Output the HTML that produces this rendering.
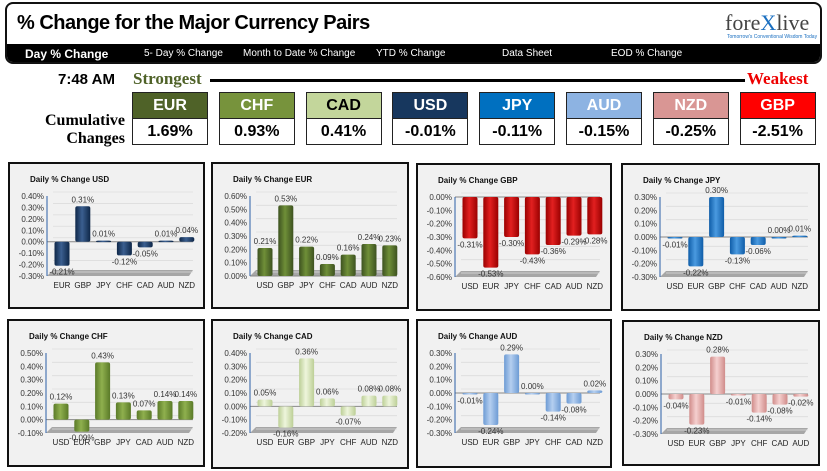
<!DOCTYPE html>
<html><head><meta charset="utf-8">
<style>
body{margin:0;width:827px;height:471px;background:#fff;overflow:hidden;position:relative;font-family:"Liberation Sans",sans-serif}
.abs{position:absolute}
#hdr{left:5px;top:2px;width:813px;height:58px;border:2px solid #111;border-radius:8px;overflow:hidden;background:#fff}
#nav{position:absolute;left:0;right:0;top:40px;height:20px;background:#000;color:#fff;font-size:10px}
#nav span{position:absolute;top:4px;font-family:"Liberation Sans Narrow","Liberation Sans",sans-serif}
.cb{position:absolute;width:74px;border:1px solid #222;text-align:center;font-family:"Liberation Sans Narrow","Liberation Sans",sans-serif;font-weight:bold}
.ch{height:25px;line-height:25px;font-size:16px;color:#fff}
.cv{height:25px;line-height:25px;font-size:16px;color:#000;background:#fff;border-top:1px solid #222}
</style></head><body>
<div id="hdr" class="abs">
  <div class="abs" style="left:10px;top:8px;font-family:'Liberation Sans Narrow','Liberation Sans',sans-serif;font-weight:bold;font-size:20px;letter-spacing:-0.5px">% Change for the Major Currency Pairs</div>
  <div class="abs" style="left:718px;top:6px;font-family:'Liberation Serif',serif;font-size:22px;color:#444">fore<span style="color:#1a6fc0">X</span>live</div>
  <div class="abs" style="left:720px;top:30px;font-size:5px;color:#1a6fc0">Tomorrow's Conventional Wisdom Today</div>
  <div id="nav">
    <span style="left:18px;font-size:12px;top:3px;font-weight:bold">Day % Change</span>
    <span style="left:137px">5- Day % Change</span>
    <span style="left:236px">Month to Date % Change</span>
    <span style="left:369px">YTD % Change</span>
    <span style="left:495px">Data Sheet</span>
    <span style="left:604px">EOD % Change</span>
  </div>
</div>
<div class="abs" style="left:58px;top:71px;font-family:'Liberation Sans Narrow','Liberation Sans',sans-serif;font-weight:bold;font-size:15px">7:48 AM</div>
<div class="abs" style="left:133px;top:69px;font-family:'Liberation Serif',serif;font-weight:bold;font-size:17px;color:#4f6228">Strongest</div>
<div class="abs" style="left:210px;top:79px;width:535px;height:3px;background:#000"></div>
<div class="abs" style="left:747px;top:69px;font-family:'Liberation Serif',serif;font-weight:bold;font-size:17px;color:#e00">Weakest</div>
<div class="abs" style="left:44px;top:112px;font-family:'Liberation Serif',serif;font-weight:bold;font-size:16px;text-align:right;line-height:18px;width:81px">Cumulative Changes</div>
<div id="boxes"></div>
<div id="charts"></div>
<script>
const curNames=["EUR","CHF","CAD","USD","JPY","AUD","NZD","GBP"];
const curValues=["1.69%","0.93%","0.41%","-0.01%","-0.11%","-0.15%","-0.25%","-2.51%"];
const curColors={EUR:"#4f6228",CHF:"#77933c",CAD:"#c3d69b",USD:"#17375e",JPY:"#0070c0",AUD:"#8db3e2",NZD:"#d99694",GBP:"#ff0000"};
const bx=document.getElementById('boxes');
curNames.forEach((c,i)=>{
  const d=document.createElement('div');d.className='cb';
  d.style.left=(132+i*86.8)+'px';d.style.top='92px';
  
  
  const dark=(c==='CAD');
  d.innerHTML='<div class="ch" style="background:'+curColors[c]+';color:'+(dark?'#000':'#fff')+'">'+c+'</div><div class="cv">'+curValues[i]+'</div>';
  bx.appendChild(d);
});

const chartBases=["USD","EUR","GBP","JPY","CHF","CAD","AUD","NZD"];
const catsUSD=["EUR","GBP","JPY","CHF","CAD","AUD","NZD"];
const valsUSD=[-0.21,0.31,0.01,-0.12,-0.05,0.01,0.04];
const catsEUR=["USD","GBP","JPY","CHF","CAD","AUD","NZD"];
const valsEUR=[0.21,0.53,0.22,0.09,0.16,0.24,0.23];
const catsGBP=["USD","EUR","JPY","CHF","CAD","AUD","NZD"];
const valsGBP=[-0.31,-0.53,-0.30,-0.43,-0.36,-0.29,-0.28];
const catsJPY=["USD","EUR","GBP","CHF","CAD","AUD","NZD"];
const valsJPY=[-0.01,-0.22,0.30,-0.13,-0.06,0.00,0.01];
const catsCHF=["USD","EUR","GBP","JPY","CAD","AUD","NZD"];
const valsCHF=[0.12,-0.09,0.43,0.13,0.07,0.14,0.14];
const catsCAD=["USD","EUR","GBP","JPY","CHF","AUD","NZD"];
const valsCAD=[0.05,-0.16,0.36,0.06,-0.07,0.08,0.08];
const catsAUD=["USD","EUR","GBP","JPY","CHF","CAD","NZD"];
const valsAUD=[-0.01,-0.24,0.29,0.00,-0.14,-0.08,0.02];
const catsNZD=["USD","EUR","GBP","JPY","CHF","CAD","AUD"];
const valsNZD=[-0.04,-0.23,0.28,-0.01,-0.14,-0.08,-0.02];
const axisMin=[-0.3,0,-0.6,-0.3,-0.1,-0.2,-0.3,-0.3];
const axisMax=[0.4,0.6,0,0.3,0.5,0.4,0.3,0.3];
const allCats=[catsUSD,catsEUR,catsGBP,catsJPY,catsCHF,catsCAD,catsAUD,catsNZD];
const allVals=[valsUSD,valsEUR,valsGBP,valsJPY,valsCHF,valsCAD,valsAUD,valsNZD];
const barColors={USD:["#0e2748","#3b5f90"],EUR:["#3d5220","#6f8f38"],GBP:["#9a0000","#e22020"],JPY:["#0f5da8","#4a9ae0"],CHF:["#5a7a28","#8fb04e"],CAD:["#bccf96","#eef5dc"],AUD:["#6d9bd4","#b5cff0"],NZD:["#d08c8a","#f5d0cf"]};
const panels=[[8,162,197,147],[211,162,198,147],[416,163,196,148],[621,163,199,148],[7,319,198,148],[211,319,198,150],[416,319,196,149],[622,320,198,146]];

const NS="http://www.w3.org/2000/svg";
const host=document.getElementById('charts');
function el(tag,attrs,parent){const e=document.createElementNS(NS,tag);for(const k in attrs)e.setAttribute(k,attrs[k]);parent.appendChild(e);return e;}
chartBases.forEach((base,ci)=>{
  const [px,py,pw,ph]=panels[ci];
  const svg=document.createElementNS(NS,'svg');
  svg.setAttribute('width',pw);svg.setAttribute('height',ph);
  svg.style.position='absolute';svg.style.left=px+'px';svg.style.top=py+'px';
  
  
  host.appendChild(svg);
  const r=el('rect',{x:1,y:1,width:pw-2,height:ph-2,fill:'#f1f1f1',stroke:'#111','stroke-width':2},svg);
  
  
  const defs=el('defs',{},svg);
  const g=el('linearGradient',{id:'g'+ci,x1:0,x2:1,y1:0,y2:0},defs);
  const [c1,c2]=barColors[base];
  el('stop',{offset:'0','stop-color':c1},g);el('stop',{offset:'0.45','stop-color':c2},g);el('stop',{offset:'1','stop-color':c1},g);
  const t=el('text',{x:22,y:20,'font-size':8,'font-weight':'bold',fill:'#111'},svg);
  t.textContent='Daily % Change '+base;
  
  
  const top=34,bot=114,ax=39;
  const mn=axisMin[ci],mx=axisMax[ci];
  const y=v=>bot-(v-mn)/(mx-mn)*(bot-top);
  const xc=i=>54+i*20.8;
  const fl=el('polygon',{points:`${ax},${bot} ${ax+6},${bot-6} ${pw-12},${bot-6} ${pw-16},${bot}`,fill:'#a6a6a6'},svg);
  
  
  const n=Math.round((mx-mn)/0.1);
  for(let k=0;k<=n;k++){
    const v=mn+k*0.1, yy=y(v);
    el('line',{x1:ax+6,x2:pw-12,y1:yy-4,y2:yy-4,stroke:'#dcdcdc','stroke-width':0.8},svg);
    const tl=el('text',{x:ax-3,y:yy+3,'font-size':8,'text-anchor':'end',fill:'#333'},svg);
    tl.textContent=v.toFixed(2).replace('-0.00','0.00')+'%';
    
    
  }
  const z=y(0);
  el('line',{x1:ax,x2:pw-12,y1:z,y2:z,stroke:'#888','stroke-width':1},svg);
  el('line',{x1:ax,x2:ax,y1:top,y2:bot,stroke:'#2a5ea8','stroke-width':1},svg);
  allVals[ci].forEach((v,i)=>{
    const x=xc(i),yv=y(v);
    const h=Math.max(Math.abs(yv-z),1.5);
    const b=el('rect',{x:x-7.5,y:Math.min(yv,z),width:15,height:h,fill:'url(#g'+ci+')',rx:2},svg);
    
    
    const ly=v>=0?yv-4:yv+9;
    const lb=el('text',{x:x,y:ly,'font-size':8,'text-anchor':'middle',fill:'#333'},svg);
    lb.textContent=v.toFixed(2)+'%';
    
    
    const cl=el('text',{x:x,y:126,'font-size':8,'text-anchor':'middle',fill:'#222'},svg);
    cl.textContent=allCats[ci][i];
    
    
  });
});
</script>
</body></html>
